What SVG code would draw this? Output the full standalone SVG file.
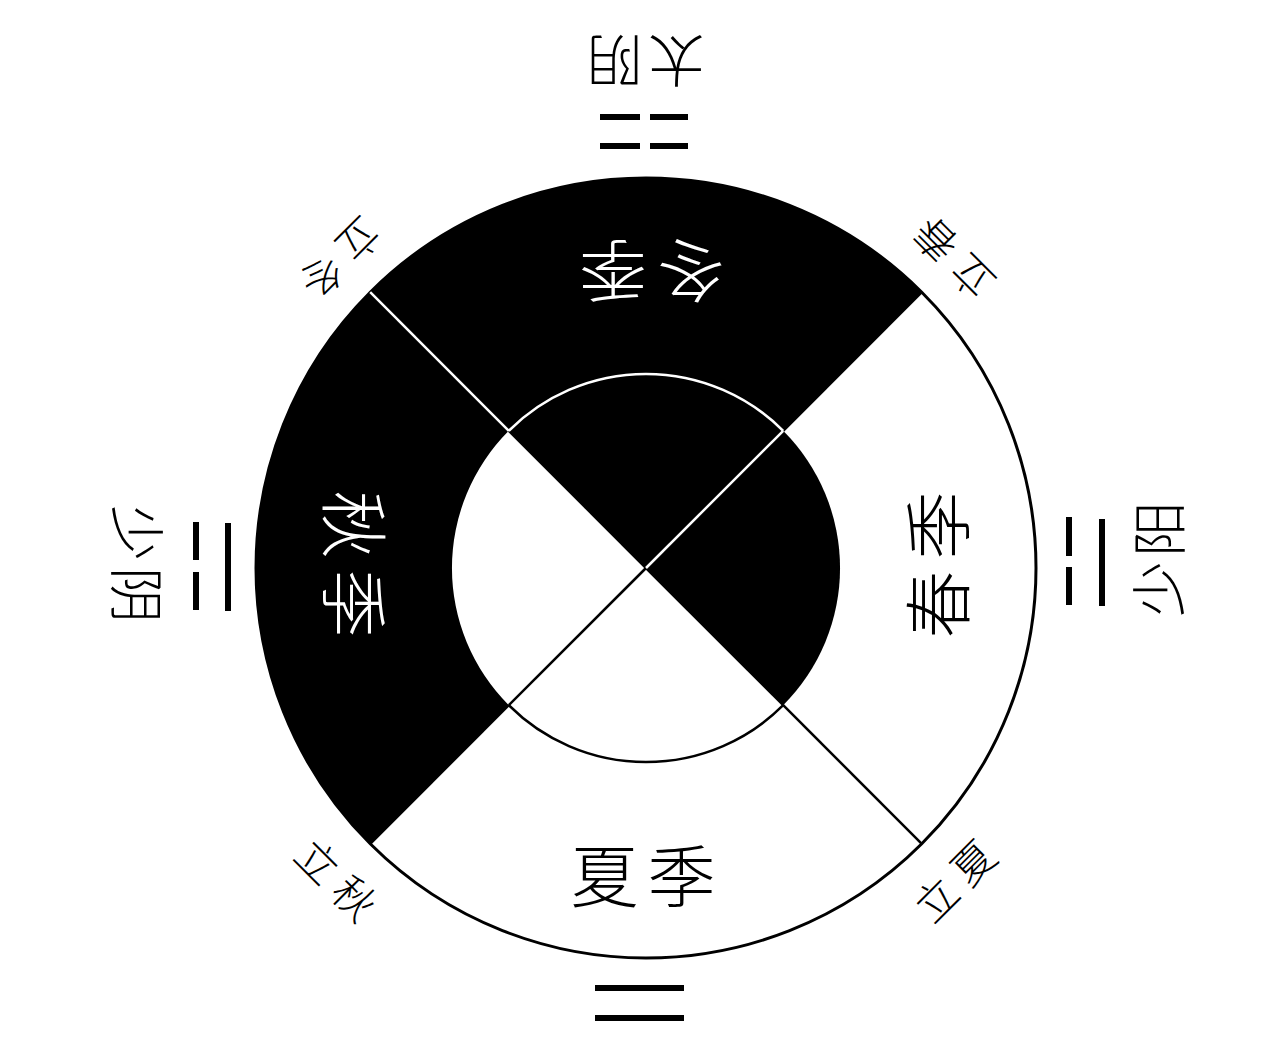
<svg xmlns="http://www.w3.org/2000/svg" width="1280" height="1042" viewBox="0 0 1280 1042">
<style>
.t{font-family:"Noto Sans CJK SC","Noto Sans CJK JP",sans-serif;font-weight:300;text-anchor:middle;dominant-baseline:central}
.w{fill:#fff}
.k{fill:#000}
.bar{stroke:#000;stroke-width:6;fill:none}
.bl{stroke:#000;stroke-width:2.5;fill:none}
.wl{stroke:#fff;stroke-width:2.5;fill:none}
</style>
<rect width="1280" height="1042" fill="#fff"/>
<g id="ring">
<circle cx="646" cy="568" r="390" fill="#fff" stroke="#000" stroke-width="3"/>
<path id="sector-winter" d="M370.2 292.2 A390 390 0 0 1 921.8 292.2 L783.2 430.8 A194 194 0 0 0 508.8 430.8 Z" fill="#000"/>
<path id="sector-autumn" d="M370.2 843.8 A390 390 0 0 1 370.2 292.2 L508.8 430.8 A194 194 0 0 0 508.8 705.2 Z" fill="#000"/>
<path id="inner-top" d="M646 568 L508.8 430.8 A194 194 0 0 1 783.2 430.8 Z" fill="#000"/>
<path id="inner-right" d="M646 568 L783.2 430.8 A194 194 0 0 1 783.2 705.2 Z" fill="#000"/>
</g>
<g id="connectors">
<line class="bl" x1="783.2" y1="705.2" x2="921.8" y2="843.8"/>
<line class="bl" x1="646" y1="568" x2="508.8" y2="705.2"/>
<line class="bl" x1="921.8" y1="292.2" x2="783.2" y2="430.8"/>
<line class="bl" x1="370.2" y1="843.8" x2="508.8" y2="705.2"/>
<line class="bl" x1="508.8" y1="430.8" x2="646" y2="568"/>
<line class="bl" x1="646" y1="568" x2="783.2" y2="705.2"/>
<path class="bl" d="M508.8 705.2 A194 194 0 0 0 783.2 705.2"/>
<line class="wl" x1="370.2" y1="292.2" x2="508.8" y2="430.8"/>
<line class="wl" x1="646" y1="568" x2="783.2" y2="430.8"/>
<path class="wl" d="M508.8 430.8 A194 194 0 0 1 783.2 430.8"/>
</g>
<g id="seasons">
<text class="t w" x="657" y="274" font-size="68" letter-spacing="10" transform="rotate(180 652 274)">冬季</text>
<text class="t w" x="362.5" y="564" font-size="68" letter-spacing="11" transform="rotate(90 357 564)">秋季</text>
<text class="t k" x="939.5" y="565" font-size="68" letter-spacing="11" transform="rotate(-90 934 565)">春季</text>
<text class="t k" x="647.5" y="872" font-size="68" letter-spacing="9">夏季</text>
</g>
<g id="label-taiyin">
<text class="t k" x="648.5" y="64" font-size="56" letter-spacing="6" transform="rotate(180 645.5 64)">太阴</text>
<line class="bar" x1="600" y1="117" x2="640" y2="117"/>
<line class="bar" x1="650" y1="117" x2="688" y2="117"/>
<line class="bar" x1="600" y1="146" x2="640" y2="146"/>
<line class="bar" x1="650" y1="146" x2="688" y2="146"/>
</g>
<g id="label-taiyang">
<line class="bar" x1="595" y1="988" x2="684" y2="988"/>
<line class="bar" x1="595" y1="1018" x2="684" y2="1018"/>
</g>
<g id="label-shaoyang">
<text class="t k" x="1157" y="559" font-size="56" letter-spacing="4" transform="rotate(-90 1155 559)">少阳</text>
<line class="bar" x1="1069" y1="517" x2="1069" y2="556"/>
<line class="bar" x1="1069" y1="567" x2="1069" y2="605"/>
<line class="bar" x1="1102" y1="519" x2="1102" y2="606"/>
</g>
<g id="label-shaoyin">
<text class="t k" x="143" y="564" font-size="56" letter-spacing="6" transform="rotate(90 140 564)">少阴</text>
<line class="bar" x1="196" y1="522" x2="196" y2="560"/>
<line class="bar" x1="196" y1="572" x2="196" y2="610"/>
<line class="bar" x1="228" y1="523" x2="228" y2="611"/>
</g>
<g id="label-lidong">
<text class="t k" x="347" y="260" font-size="42" letter-spacing="10" transform="rotate(135 342 260)">立冬</text>
</g>
<g id="label-lichun">
<text class="t k" x="957" y="260" font-size="42" letter-spacing="10" transform="rotate(-135 952 260)">立春</text>
</g>
<g id="label-liqiu">
<text class="t k" x="343" y="878" font-size="42" letter-spacing="10" transform="rotate(45 338 878)">立秋</text>
</g>
<g id="label-lixia">
<text class="t k" x="958" y="879" font-size="42" letter-spacing="10" transform="rotate(-45 953 879)">立夏</text>
</g>
</svg>
